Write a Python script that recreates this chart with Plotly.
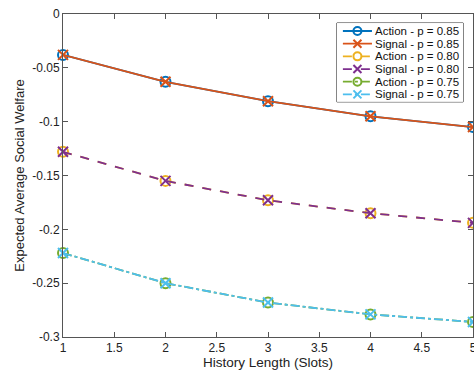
import plotly.graph_objects as go

history = [1, 2, 3, 4, 5]
action_085 = [-0.038, -0.063, -0.081, -0.095, -0.105]
signal_085 = [-0.038, -0.063, -0.081, -0.095, -0.105]
action_080 = [-0.128, -0.155, -0.173, -0.185, -0.194]
signal_080 = [-0.128, -0.155, -0.173, -0.185, -0.194]
action_075 = [-0.222, -0.250, -0.268, -0.279, -0.286]
signal_075 = [-0.222, -0.250, -0.268, -0.279, -0.286]

series_names = ["Action - p = 0.85", "Signal - p = 0.85", "Action - p = 0.80",
                "Signal - p = 0.80", "Action - p = 0.75", "Signal - p = 0.75"]
x_ticks = [1, 1.5, 2, 2.5, 3, 3.5, 4, 4.5, 5]
x_ticktext = ["1", "1.5", "2", "2.5", "3", "3.5", "4", "4.5", "5"]
y_ticks = [0, -0.05, -0.1, -0.15, -0.2, -0.25, -0.3]
y_ticktext = ["0", "-0.05", "-0.1", "-0.15", "-0.2", "-0.25", "-0.3"]

series = [action_085, signal_085, action_080, signal_080, action_075, signal_075]
colors = ["#0072BD", "#D95319", "#EDB120", "#7E2F8E", "#77AC30", "#4DBEEE"]
dashes = ["solid", "solid", "dash", "dash", "dashdot", "dashdot"]
symbols = ["circle-open", "x-thin-open", "circle-open", "x-thin-open", "circle-open", "x-thin-open"]

fig = go.Figure()
for name, ys, c, d, s in zip(series_names, series, colors, dashes, symbols):
    fig.add_trace(go.Scatter(
        x=history, y=ys, name=name, mode="lines+markers", cliponaxis=False,
        showlegend=False,
        line=dict(color=c, width=1.8, dash=d),
        marker=dict(symbol=s, size=10, color=c, line=dict(color=c, width=2)),
    ))

# Compact MATLAB-style legend drawn on an overlay axis (legend box units)
LEG_W, LEG_H = 126, 79
row0, row_step = 8, 12.7
for i, (name, c, d, s) in enumerate(zip(series_names, colors, dashes, symbols)):
    ry = row0 + i * row_step
    fig.add_trace(go.Scatter(
        x=[6, 20.5, 35], y=[ry, ry, ry], mode="lines+markers", xaxis="x2", yaxis="y2",
        showlegend=False, hoverinfo="skip", cliponaxis=False,
        line=dict(color=c, width=1.8, dash=d),
        marker=dict(symbol=s, size=8, color=c, opacity=[0, 1, 0], line=dict(color=c, width=2)),
    ))
    fig.add_annotation(x=37.5, y=ry, xref="x2", yref="y2", text=name, showarrow=False,
                       xanchor="left", yanchor="middle", borderpad=0,
                       font=dict(size=11.5, color="#111111"))

fig.add_shape(type="rect", xref="x2 domain", yref="y2 domain", x0=0, x1=1, y0=0, y1=1,
              line=dict(color="#222222", width=1), fillcolor="white", layer="below")

axis_common = dict(showline=True, linecolor="#555555", linewidth=1, mirror="ticks",
                   ticks="inside", ticklen=5, tickcolor="#555555", showgrid=False,
                   zeroline=False, automargin=False, tickfont=dict(size=12, color="#222222"))

fig.update_layout(
    width=474, height=372,
    margin=dict(l=63, r=1, t=14, b=35),
    paper_bgcolor="white", plot_bgcolor="white",
    font=dict(family="Liberation Sans, Arial, sans-serif", color="#222222"),
    xaxis=dict(range=[1, 5], tickvals=x_ticks, ticktext=x_ticktext, ticklabeloverflow="allow",
               title=dict(text="History Length (Slots)", font=dict(size=13.5), standoff=0),
               **axis_common),
    yaxis=dict(range=[-0.3, 0], tickvals=y_ticks, ticktext=y_ticktext,
               title=dict(text="Expected Average Social Welfare", font=dict(size=13), standoff=4),
               **axis_common),
    xaxis2=dict(domain=[0.668, 0.976], range=[0, LEG_W], visible=False, fixedrange=True,
                anchor="y2"),
    yaxis2=dict(domain=[0.728, 0.972], range=[LEG_H, 0], visible=False, fixedrange=True,
                anchor="x2"),
    showlegend=False,
    hovermode=False,
)

fig.write_html("out.html", config={"displayModeBar": False},
               post_script="document.body.style.margin='0';document.body.style.overflow='hidden';")
